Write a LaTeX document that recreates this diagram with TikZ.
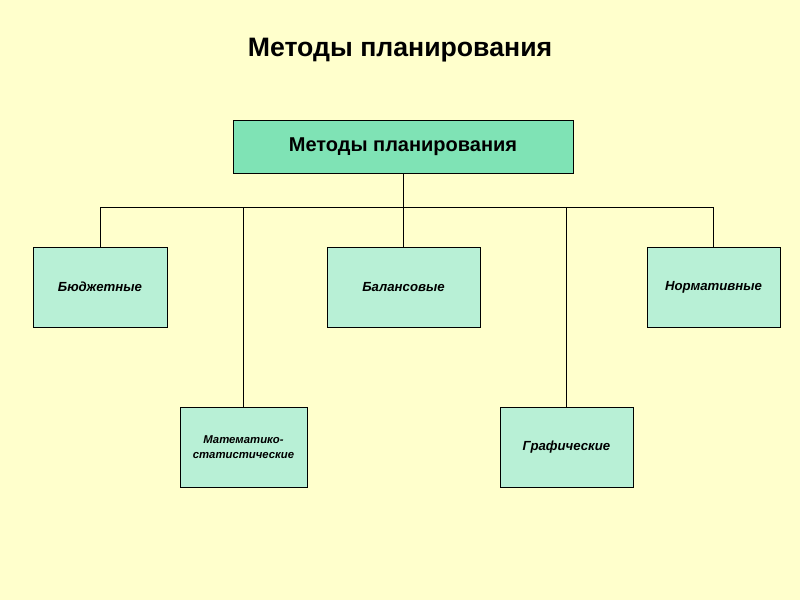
\documentclass[tikz,border=0pt]{standalone}
\usepackage{fontspec}
\setmainfont{Liberation Sans}
\usepackage{tikz}
\usetikzlibrary{positioning,calc}

\definecolor{fon}{HTML}{FFFFCC}
\definecolor{topgreen}{HTML}{7FE3B5}
\definecolor{boxgreen}{HTML}{B8F0D6}

\begin{document}
\begin{tikzpicture}[x=0.75pt, y=-0.75pt, semithick]
	\tikzstyle{every node}=[text=black]
	\tikzstyle{method}=[draw=black,fill=boxgreen,minimum width=100.5pt,minimum height=60pt,align=center,font=\fontsize{9.9}{12}\selectfont\bfseries\itshape,inner sep=1pt]
	\fill[fon] (0,0) rectangle (800,600);
	\useasboundingbox (0,0) rectangle (800,600);
	\node (title) at (400,50) {\fontsize{20}{24}\selectfont\bfseries Методы планирования};
	\node[draw=black,fill=topgreen,minimum width=255pt,minimum height=39.75pt,font=\fontsize{15}{18}\selectfont\bfseries] (top) at (403,147) {Методы планирования};
	\node[method]    (bud) at (100,287)   {Бюджетные};
	\node[method,minimum width=95.25pt,font=\fontsize{8.5}{11}\selectfont\bfseries\itshape] (mat) at (243.5,447) {Математико-\\статистические};
	\node[method,minimum width=114.75pt] (bal) at (403.5,287) {Балансовые};
	\node[method,minimum width=99.75pt] (graf) at (566.5,447) {Графические};
	\node[method,minimum width=99.75pt] (norm) at (713.5,287) {Нормативные};
	\coordinate (bus) at (0,207);
	% tree lines
	\draw (top.south) -- (top.south |- bus);
	\draw (bud.north) -- (bud.north |- bus) -- (norm.north |- bus) -- (norm.north);
	\draw (mat.north) -- (mat.north |- bus);
	\draw (bal.north) -- (bal.north |- bus);
	\draw (graf.north) -- (graf.north |- bus);
\end{tikzpicture}
\end{document}
